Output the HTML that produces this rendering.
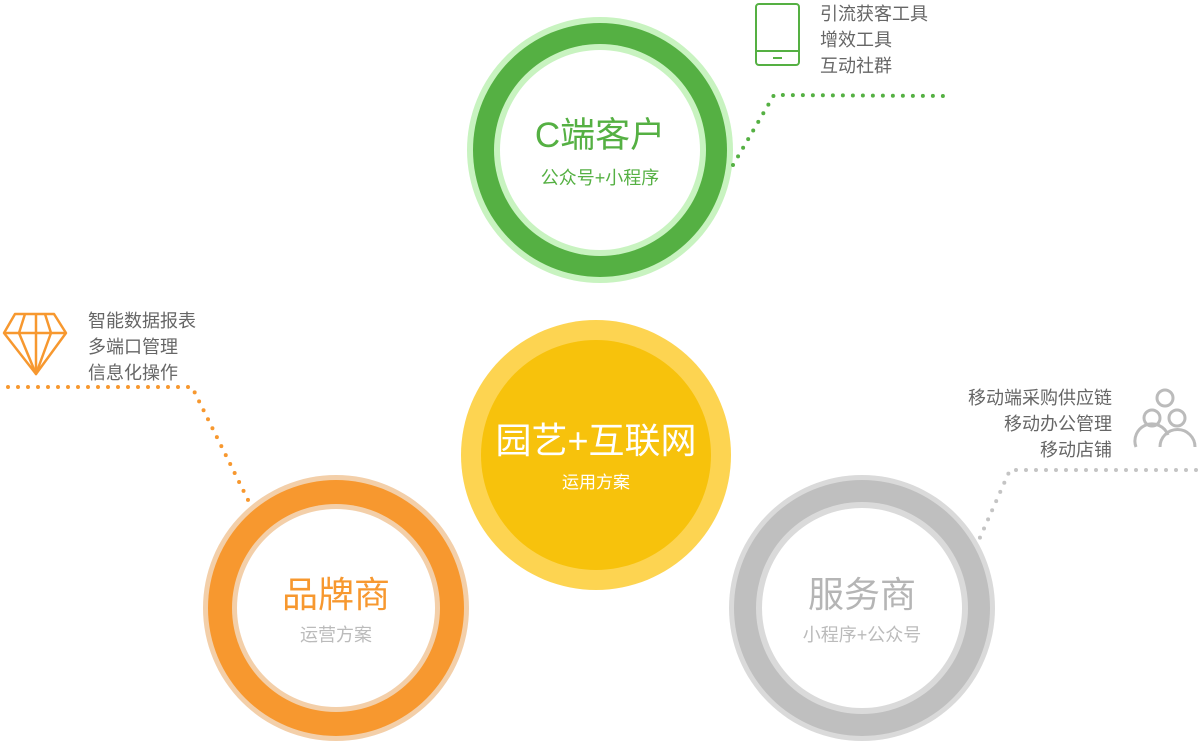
<!DOCTYPE html>
<html><head><meta charset="utf-8"><style>
html,body{margin:0;padding:0;background:#fff;width:1201px;height:748px;overflow:hidden}
svg{display:block}
text{font-family:"Liberation Sans","Noto Sans CJK SC",sans-serif}
</style></head><body>
<svg width="1201" height="748" viewBox="0 0 1201 748" xmlns="http://www.w3.org/2000/svg">
<!-- green -->
<circle cx="600" cy="150" r="133" fill="#c8f3c0"/>
<circle cx="600" cy="150" r="127" fill="#55b043"/>
<circle cx="600" cy="150" r="106" fill="#c8f3c0"/>
<circle cx="600" cy="150" r="100" fill="#fff"/>
<text x="600" y="147" text-anchor="middle" font-size="35" fill="#55b043">C端客户</text>
<text x="600" y="184" text-anchor="middle" font-size="18" fill="#55b043">公众号+小程序</text>
<!-- yellow -->
<circle cx="596" cy="455" r="135" fill="#fdd451"/>
<circle cx="596" cy="455" r="115" fill="#f7c20c"/>
<text x="596" y="453" text-anchor="middle" font-size="36" fill="#fff">园艺+互联网</text>
<text x="596" y="488" text-anchor="middle" font-size="17" fill="#fff">运用方案</text>
<!-- orange -->
<circle cx="336" cy="608" r="133" fill="#f3cfa9"/>
<circle cx="336" cy="608" r="128" fill="#f7982f"/>
<circle cx="336" cy="608" r="104" fill="#f3cfa9"/>
<circle cx="336" cy="608" r="99" fill="#fff"/>
<text x="336" y="607" text-anchor="middle" font-size="36" fill="#f7982f">品牌商</text>
<text x="336" y="641" text-anchor="middle" font-size="18" fill="#bbb">运营方案</text>
<!-- grey -->
<circle cx="862" cy="608" r="133" fill="#dadada"/>
<circle cx="862" cy="608" r="128" fill="#bfbfbf"/>
<circle cx="862" cy="608" r="106" fill="#dadada"/>
<circle cx="862" cy="608" r="100" fill="#fff"/>
<text x="862" y="607" text-anchor="middle" font-size="36" fill="#b5b5b5">服务商</text>
<text x="862" y="641" text-anchor="middle" font-size="18" fill="#bbb">小程序+公众号</text>
<!-- dotted lines -->
<g fill="none" stroke-linecap="round" stroke-width="4" stroke-dasharray="0 10">
<polyline points="733,165 774,95 944,96" stroke="#55b043"/>
<polyline points="8,387 192,387 252,508" stroke="#f7982f"/>
<polyline points="1196,470 1010,470 978,542" stroke="#c4c4c4"/>
</g>
<!-- tablet icon -->
<g fill="none" stroke="#55b043" stroke-width="2">
<rect x="756" y="4" width="43" height="61" rx="3"/>
<line x1="756" y1="51" x2="799" y2="51"/>
<line x1="773" y1="58" x2="782" y2="58"/>
</g>
<g font-size="18" fill="#666">
<text x="820" y="20">引流获客工具</text>
<text x="820" y="46">增效工具</text>
<text x="820" y="72">互动社群</text>
</g>
<!-- diamond icon -->
<g fill="none" stroke="#f7982f" stroke-width="2.5" stroke-linejoin="round">
<polygon points="15,314 54,314 66,333 36,374 4,333"/>
<line x1="4" y1="333" x2="66" y2="333"/>
<line x1="36" y1="314" x2="36" y2="374"/>
<polyline points="25,314 19,333 36,374 51,333 45,314"/>
</g>
<g font-size="18" fill="#666">
<text x="88" y="327">智能数据报表</text>
<text x="88" y="353">多端口管理</text>
<text x="88" y="379">信息化操作</text>
</g>
<!-- people icon -->
<g fill="none" stroke="#bbb" stroke-width="3">
<circle cx="1165" cy="398" r="8"/>
<circle cx="1152" cy="418" r="8"/>
<circle cx="1177" cy="418" r="8"/>
<path d="M1136,447 a17,17 0 0 1 32,-12"/>
<path d="M1160,447 a17,17 0 0 1 35,0"/>
</g>
<g font-size="18" fill="#666" text-anchor="end">
<text x="1112" y="404">移动端采购供应链</text>
<text x="1112" y="430">移动办公管理</text>
<text x="1112" y="456">移动店铺</text>
</g>
</svg>
</body></html>
